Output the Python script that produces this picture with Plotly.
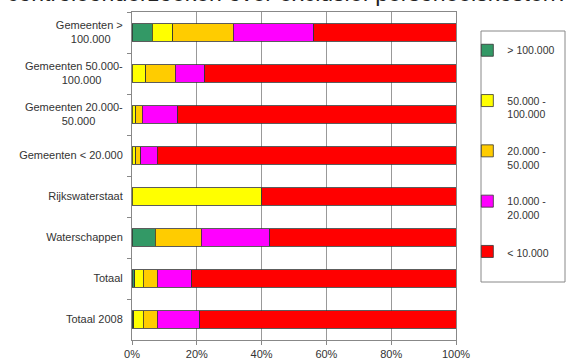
import plotly.graph_objects as go

category_labels = [
    "Gemeenten ><br>100.000\u00a0\u00a0\u00a0\u00a0",
    "Gemeenten 50.000-<br>100.000\u00a0\u00a0\u00a0\u00a0\u00a0\u00a0\u00a0",
    "Gemeenten 20.000-<br>50.000\u00a0\u00a0\u00a0\u00a0\u00a0\u00a0\u00a0\u00a0\u00a0",
    "Gemeenten < 20.000",
    "Rijkswaterstaat",
    "Waterschappen",
    "Totaal",
    "Totaal 2008",
]

series_names = ["> 100.000<br>\u00a0", "50.000 -<br>100.000", "20.000 -<br>50.000", "10.000 -<br>20.000", "< 10.000"]
s_gt100k = [6.3, None, None, None, None, 7.2, 0.9, 0.5]
s_50_100k = [6.3, 4.2, 1.2, 1.1, 40.0, None, 2.6, 3.0]
s_20_50k = [18.6, 9.2, 1.9, 1.6, None, 14.1, 4.3, 4.3]
s_10_20k = [24.9, 9.1, 11.0, 5.1, None, 21.2, 10.6, 13.1]
s_lt10k = [43.9, 77.5, 85.9, 92.2, 60.0, 57.5, 81.6, 79.1]
series_values = [s_gt100k, s_50_100k, s_20_50k, s_10_20k, s_lt10k]
colors = ["#339966", "#FFFF00", "#FFCC00", "#FF00FF", "#FF0000"]

x_ticks = [0, 20, 40, 60, 80, 100]
x_tick_labels = ["0%", "20%", "40%", "60%", "80%", "100%"]

fig = go.Figure()
for i, (name, vals, col) in enumerate(zip(series_names, series_values, colors)):
    fig.add_trace(go.Bar(
        y=category_labels, x=vals, orientation="h", name=name,
        marker=dict(color=col, line=dict(color="#333333", width=0.8)),
        width=0.42, legendgroup=f"g{i}",
    ))

fig.update_layout(
    width=572, height=361,
    margin=dict(l=132, r=116, t=12, b=21, autoexpand=False),
    barmode="stack",
    plot_bgcolor="white", paper_bgcolor="white",
    font=dict(family="Liberation Sans, Arial, sans-serif", size=11, color="#333333"),
    showlegend=True,
    legend=dict(
        x=1.035, xanchor="left", y=0.924, yanchor="top",
        traceorder="grouped", tracegroupgap=20, valign="top",
        font=dict(size=10.5, color="#333333"),
        bgcolor="rgba(0,0,0,0)", borderwidth=0,
    ),
    shapes=[dict(
        type="rect", xref="paper", yref="paper",
        x0=(481 - 132) / 324, x1=(565 - 132) / 324,
        y0=(340 - 282) / 328, y1=(340 - 31) / 328,
        line=dict(color="#888888", width=1), fillcolor="rgba(0,0,0,0)",
    )],
    annotations=[dict(
        text="controleonderzoeken over exclusief personeelskosten?",
        xref="paper", yref="paper", x=0.48, y=1.0, yshift=4,
        xanchor="center", yanchor="bottom",
        showarrow=False, font=dict(size=23, color="#222222"),
    )],
)
fig.update_xaxes(
    range=[0, 100], tickvals=x_ticks, ticktext=x_tick_labels,
    showgrid=True, gridcolor="#999999", gridwidth=1,
    showline=True, linecolor="#888888", mirror=True,
    ticks="outside", ticklen=4, tickcolor="#888888", zeroline=False,
    automargin=False,
)
fig.update_yaxes(
    categoryorder="array", categoryarray=category_labels, autorange="reversed",
    showline=True, linecolor="#888888", mirror=True,
    ticks="outside", ticklen=4, tickcolor="#888888", tickson="boundaries",
    showgrid=False, automargin=False, ticklabelstandoff=6,
)

fig.write_html(
    "out.html",
    config={"displayModeBar": False},
    post_script="document.body.style.margin='0';",
)
